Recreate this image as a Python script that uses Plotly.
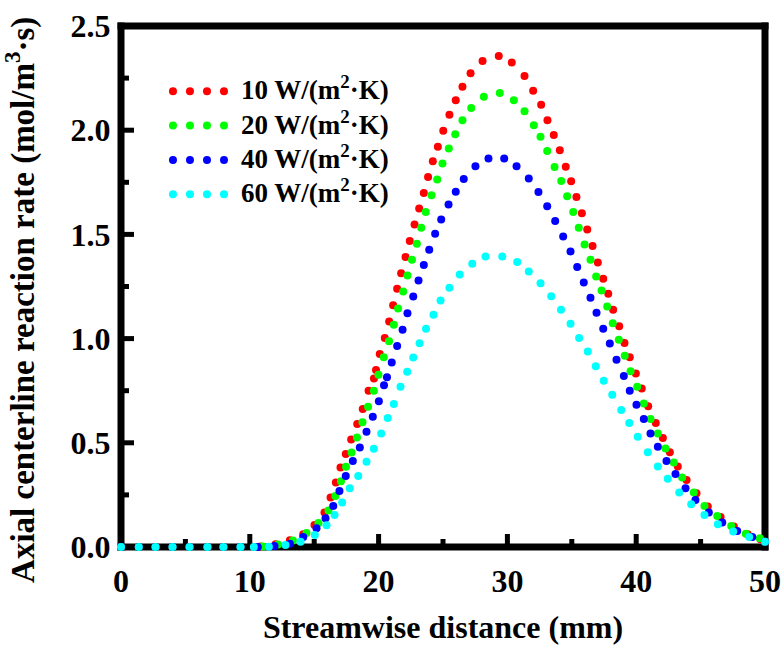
import plotly.graph_objects as go

# Heat-transfer coefficients of the four cases, W/(m^2*K)
h_values = [10, 20, 40, 60]
colors = ["#FF0000", "#00FF00", "#0000FF", "#00FFFF"]

# Axial centerline reaction rate (mol/m^3/s) vs streamwise distance (mm)
x_h10 = [0.0, 1.38, 2.68, 4.0, 5.32, 6.71, 7.95, 9.28, 10.83, 12.00, 13.11, 14.15, 15.02,
         15.80, 16.27, 16.68, 17.04, 17.45, 17.87, 18.34, 18.77, 19.22, 19.64, 19.80, 20.09,
         20.48, 20.82, 21.13, 21.44, 21.75, 22.09, 22.42, 22.79, 23.15, 23.51, 23.84, 24.21,
         24.60, 25.02, 25.50, 25.99, 26.51, 27.14, 28.07, 29.33, 30.34, 31.33, 32.00, 32.62,
         33.11, 33.60, 34.07, 34.53, 34.95, 35.36, 35.78, 36.20, 36.61, 37.02, 37.44, 37.83,
         38.21, 38.68, 39.09, 39.50, 39.97, 40.43, 40.93, 41.52, 42.07, 42.61, 43.23, 43.91,
         44.68, 45.56, 46.55, 47.58, 48.66, 49.65, 50.0]
y_h10 = [0, 0, 0, 0, 0, 0, 0, 0, 0.002, 0.013, 0.032, 0.061, 0.106, 0.165, 0.237, 0.309,
         0.381, 0.446, 0.516, 0.590, 0.662, 0.750, 0.808, 0.849, 0.926, 1.003, 1.082, 1.160,
         1.239, 1.314, 1.391, 1.468, 1.548, 1.624, 1.699, 1.776, 1.851, 1.920, 1.997, 2.074,
         2.144, 2.208, 2.273, 2.332, 2.356, 2.325, 2.260, 2.189, 2.122, 2.048, 1.977, 1.904,
         1.825, 1.755, 1.679, 1.602, 1.523, 1.444, 1.365, 1.287, 1.215, 1.139, 1.059, 0.979,
         0.910, 0.833, 0.760, 0.675, 0.595, 0.523, 0.455, 0.386, 0.321, 0.258, 0.194, 0.144,
         0.098, 0.061, 0.037, 0.025]

x_h20 = [0.0, 1.38, 2.68, 4.0, 5.32, 6.71, 7.95, 9.28, 10.99, 12.19, 13.35, 14.40, 15.33,
         16.11, 16.65, 17.08, 17.47, 17.90, 18.32, 18.75, 19.18, 19.63, 19.99, 20.40, 20.81,
         21.18, 21.51, 21.91, 22.24, 22.59, 22.97, 23.31, 23.66, 24.11, 24.55, 24.96, 25.45,
         25.95, 26.51, 27.19, 28.17, 29.41, 30.50, 31.33, 32.05, 32.57, 33.09, 33.66, 34.18,
         34.64, 35.11, 35.54, 35.99, 36.45, 36.89, 37.31, 37.75, 38.18, 38.65, 39.11, 39.56,
         40.08, 40.59, 41.11, 41.68, 42.28, 42.92, 43.57, 44.47, 45.30, 46.29, 47.38, 48.51,
         49.60, 50.0]
y_h20 = [0, 0, 0, 0, 0, 0, 0, 0, 0.002, 0.012, 0.031, 0.067, 0.115, 0.175, 0.245, 0.315,
         0.385, 0.454, 0.526, 0.599, 0.673, 0.750, 0.827, 0.910, 0.987, 1.067, 1.145, 1.226,
         1.303, 1.378, 1.455, 1.532, 1.608, 1.688, 1.763, 1.840, 1.912, 1.981, 2.048, 2.106,
         2.160, 2.179, 2.144, 2.091, 2.024, 1.968, 1.900, 1.824, 1.756, 1.683, 1.607, 1.532,
         1.452, 1.378, 1.298, 1.231, 1.154, 1.074, 0.994, 0.918, 0.843, 0.769, 0.689, 0.614,
         0.545, 0.473, 0.405, 0.333, 0.261, 0.197, 0.149, 0.101, 0.064, 0.042, 0.025]

x_h40 = [0.0, 1.38, 2.68, 4.0, 5.32, 6.71, 7.95, 9.28, 10.62, 11.92, 13.11, 14.15, 15.18,
         15.88, 16.48, 16.96, 17.45, 18.00, 18.54, 19.06, 19.55, 20.02, 20.42, 20.65, 21.02,
         21.44, 21.86, 22.24, 22.69, 23.10, 23.51, 23.93, 24.39, 24.86, 25.43, 25.99, 26.61,
         27.52, 28.53, 29.75, 30.71, 31.66, 32.41, 33.09, 33.71, 34.33, 34.90, 35.42, 35.93,
         36.45, 36.92, 37.44, 37.95, 38.47, 39.04, 39.50, 40.02, 40.59, 41.11, 41.68, 42.35,
         43.05, 43.83, 44.60, 45.64, 46.68, 47.84, 49.01, 50.0]
y_h40 = [0, 0, 0, 0, 0, 0, 0, 0, 0, 0.005, 0.016, 0.048, 0.090, 0.138, 0.197, 0.269, 0.341,
         0.413, 0.477, 0.553, 0.625, 0.699, 0.776, 0.814, 0.885, 0.964, 1.042, 1.122, 1.202,
         1.279, 1.353, 1.426, 1.503, 1.571, 1.643, 1.705, 1.766, 1.827, 1.864, 1.864, 1.827,
         1.768, 1.703, 1.635, 1.564, 1.490, 1.418, 1.343, 1.269, 1.196, 1.124, 1.047, 0.977,
         0.898, 0.821, 0.750, 0.683, 0.614, 0.545, 0.481, 0.413, 0.350, 0.282, 0.225, 0.165,
         0.117, 0.077, 0.048, 0.025]

x_h60 = [0.0, 1.38, 2.68, 4.0, 5.32, 6.71, 7.95, 9.28, 10.31, 11.48, 12.77, 13.94, 15.05,
         15.96, 16.58, 17.17, 17.76, 18.42, 19.06, 19.63, 20.20, 20.71, 21.18, 21.70, 22.22,
         22.69, 23.18, 23.68, 24.26, 24.81, 25.50, 26.30, 27.27, 28.30, 29.60, 30.76, 31.66,
         32.57, 33.40, 34.16, 34.90, 35.57, 36.24, 36.86, 37.48, 38.14, 38.84, 39.46, 40.12,
         40.90, 41.68, 42.45, 43.34, 44.27, 45.30, 46.34, 47.53, 48.77, 50.0]
y_h60 = [0, 0, 0, 0, 0, 0, 0, 0, 0, 0.001, 0.010, 0.025, 0.058, 0.104, 0.154, 0.213, 0.282,
         0.341, 0.409, 0.471, 0.545, 0.619, 0.686, 0.769, 0.841, 0.909, 0.978, 1.047, 1.114,
         1.183, 1.244, 1.308, 1.359, 1.394, 1.394, 1.367, 1.322, 1.266, 1.203, 1.139, 1.071,
         1.003, 0.938, 0.867, 0.798, 0.731, 0.657, 0.595, 0.529, 0.455, 0.386, 0.327, 0.261,
         0.205, 0.154, 0.109, 0.074, 0.048, 0.025]

x_ticks = [0, 10, 20, 30, 40, 50]
x_minor_ticks = [5, 15, 25, 35, 45]
y_ticks = [0.0, 0.5, 1.0, 1.5, 2.0, 2.5]
y_minor_ticks = [0.25, 0.75, 1.25, 1.75, 2.25]
X_RANGE = [0, 50]
Y_RANGE = [0, 2.5]

series = [(x_h10, y_h10), (x_h20, y_h20), (x_h40, y_h40), (x_h60, y_h60)]
labels = [f"<b>{h} W/(m<sup>2</sup>·K)</b>" for h in h_values]

FONT = "Liberation Serif"
MARKER_SIZE = 8

# Figure geometry (pixels)
FIG_W, FIG_H = 783, 645
MARGIN = dict(l=121, r=18, t=26, b=98)
PLOT_W = FIG_W - MARGIN["l"] - MARGIN["r"]
PLOT_H = FIG_H - MARGIN["t"] - MARGIN["b"]
FRAME_W = 7        # frame thickness
TICK_W = 5         # tick thickness
MAJOR_LEN = 13
MINOR_LEN = 8

fig = go.Figure()
for (xs, ys), color, h in zip(series, colors, h_values):
    fig.add_trace(go.Scatter(
        x=xs, y=ys, mode="markers", name=f"{h} W/(m2·K)",
        marker=dict(size=MARKER_SIZE, color=color, line=dict(width=0)),
        cliponaxis=False, showlegend=False,
    ))

shapes = []

# Heavy black frame around the plotting area, built from filled bars
ex = FRAME_W / 2 / PLOT_W
ey = FRAME_W / 2 / PLOT_H
for x0, x1, y0, y1 in [(-ex, ex, -ey, 1 + ey), (1 - ex, 1 + ex, -ey, 1 + ey),
                       (-ex, 1 + ex, -ey, ey), (-ex, 1 + ex, 1 - ey, 1 + ey)]:
    shapes.append(dict(type="rect", xref="paper", yref="paper",
                       x0=x0, x1=x1, y0=y0, y1=y1, layer="below",
                       fillcolor="black", line=dict(width=0)))

# Inward ticks on the bottom and left axes
for vals, length in [(x_ticks, MAJOR_LEN), (x_minor_ticks, MINOR_LEN)]:
    for v in vals:
        shapes.append(dict(type="rect", xref="x", yref="paper",
                           xsizemode="pixel", xanchor=v,
                           x0=-TICK_W / 2, x1=TICK_W / 2,
                           y0=0, y1=length / PLOT_H, layer="below",
                           fillcolor="black", line=dict(width=0)))
for vals, length in [(y_ticks, MAJOR_LEN), (y_minor_ticks, MINOR_LEN)]:
    for v in vals:
        shapes.append(dict(type="rect", xref="paper", yref="y",
                           ysizemode="pixel", yanchor=v,
                           y0=-TICK_W / 2, y1=TICK_W / 2,
                           x0=0, x1=length / PLOT_W, layer="below",
                           fillcolor="black", line=dict(width=0)))

# Legend: a row of four dots followed by the label for each case
LEG_DOT_X0 = 0.0807
LEG_DOT_STEP = 0.0264
LEG_ROW_Y0 = 0.875
LEG_ROW_STEP = 0.066
LEG_TEXT_X = 0.183
annotations = []
for i, (color, label) in enumerate(zip(colors, labels)):
    yy = LEG_ROW_Y0 - i * LEG_ROW_STEP
    for k in range(4):
        shapes.append(dict(
            type="circle", xref="paper", yref="paper",
            xsizemode="pixel", ysizemode="pixel",
            xanchor=LEG_DOT_X0 + k * LEG_DOT_STEP, yanchor=yy,
            x0=-MARKER_SIZE / 2, x1=MARKER_SIZE / 2,
            y0=-MARKER_SIZE / 2, y1=MARKER_SIZE / 2,
            fillcolor=color, line=dict(width=0),
        ))
    annotations.append(dict(
        text=label, xref="paper", yref="paper", x=LEG_TEXT_X, y=yy, yshift=3,
        xanchor="left", yanchor="middle", showarrow=False,
        font=dict(family=FONT, size=27, color="black"),
    ))

# Vertical axis title
annotations.append(dict(
    text="<b>Axial centerline reaction rate (mol/m<sup>3</sup>·s)</b>",
    xref="paper", yref="paper", x=-0.157, y=0.474,
    xanchor="center", yanchor="middle", textangle=-90, showarrow=False,
    font=dict(family=FONT, size=33, color="black"),
))

tick_font = dict(family=FONT, size=32, color="black")

fig.update_layout(
    width=FIG_W, height=FIG_H,
    margin=MARGIN,
    paper_bgcolor="white", plot_bgcolor="rgba(0,0,0,0)",
    xaxis=dict(
        range=X_RANGE, tickmode="array", tickvals=x_ticks,
        ticktext=[f"<b>{v}</b>" for v in x_ticks], ticks="",
        showline=True, linewidth=FRAME_W, linecolor="rgba(0,0,0,0)",
        showgrid=False, zeroline=False, automargin=False, tickfont=tick_font,
        title=dict(text="<b>Streamwise distance (mm)</b>", standoff=33,
                   font=dict(family=FONT, size=32, color="black")),
    ),
    yaxis=dict(
        range=Y_RANGE, tickmode="array", tickvals=y_ticks,
        ticktext=[f"<b>{v:.1f}</b>" for v in y_ticks], ticks="",
        showline=True, linewidth=4, linecolor="rgba(0,0,0,0)",
        showgrid=False, zeroline=False, automargin=False, tickfont=tick_font,
    ),
    shapes=shapes,
    annotations=annotations,
)

fig.write_html("out.html")
